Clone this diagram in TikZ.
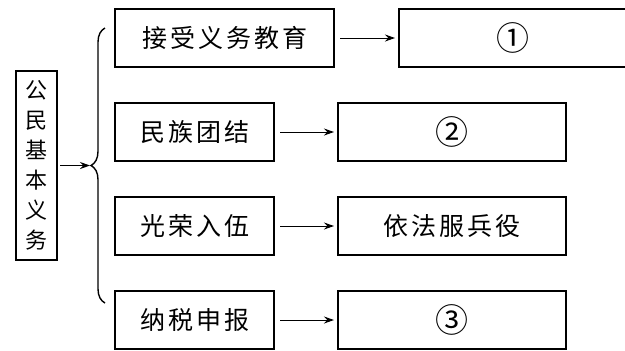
\documentclass[tikz,border=0pt]{standalone}
\usepackage{fontspec}
\newfontfamily\cjk[LetterSpace=12]{Noto Sans CJK SC}
\newfontfamily\cjkplain{Noto Sans CJK SC}
\usetikzlibrary{arrows.meta, positioning, calc, decorations.pathreplacing}

\begin{document}
\begin{tikzpicture}[node distance=17pt, auto]
    \tikzset{
        duty/.style={rectangle, draw=black, line width=1pt, minimum height=29pt, text centered, inner sep=0pt, font=\cjk\fontsize{12.5}{14}\selectfont},
        answer/.style={duty, minimum width=114pt, font=\cjkplain\fontsize{16.5}{18}\selectfont},
        arrow/.style={draw=black, line width=0.5pt, -{Stealth[length=5pt,width=3.5pt]}, shorten <=2.5pt, shorten >=1.5pt}
    }
    \useasboundingbox (0,0) rectangle (312.5pt,-175pt);
    % left column
    \node [duty, minimum width=20.5pt, minimum height=94.5pt, align=center, font=\cjkplain\fontsize{11}{15}\selectfont] (basic) at (18.25pt,-82.75pt) {公\\民\\基\\本\\义\\务};
    \node [duty, minimum width=109.5pt, anchor=north west] (edu) at (57pt,-4pt) {接受义务教育};
    \node [duty, minimum width=79.5pt, below right=17pt and 0pt of edu.south west] (unity) {民族团结};
    \node [duty, minimum width=79.5pt, below=17pt of unity] (army) {光荣入伍};
    \node [duty, minimum width=79.5pt, below=17pt of army] (tax) {纳税申报};
    % right column
    \node [answer, right=31.5pt of edu] (ans1) {①};
    \node [answer, right=31pt of unity] (ans2) {②};
    \node [answer, right=31pt of army, font=\cjk\fontsize{12.5}{14}\selectfont] (ans3) {依法服兵役};
    \node [answer, right=31pt of tax] (ans4) {③};

    \draw [line width=0.7pt, decorate, decoration={brace, amplitude=7pt}] (52.5pt,-151.5pt) -- (52.5pt,-14pt);
    \coordinate (tip) at (45.5pt,-82.75pt);
    \draw [arrow, shorten >=0.5pt, shorten <=1pt] (basic) -- (tip);

    \draw [arrow] (edu) -- (ans1);
    \draw [arrow] (unity) -- (ans2);
    \draw [arrow] (army) -- (ans3);
    \draw [arrow] (tax) -- (ans4);
\end{tikzpicture}
\end{document}
